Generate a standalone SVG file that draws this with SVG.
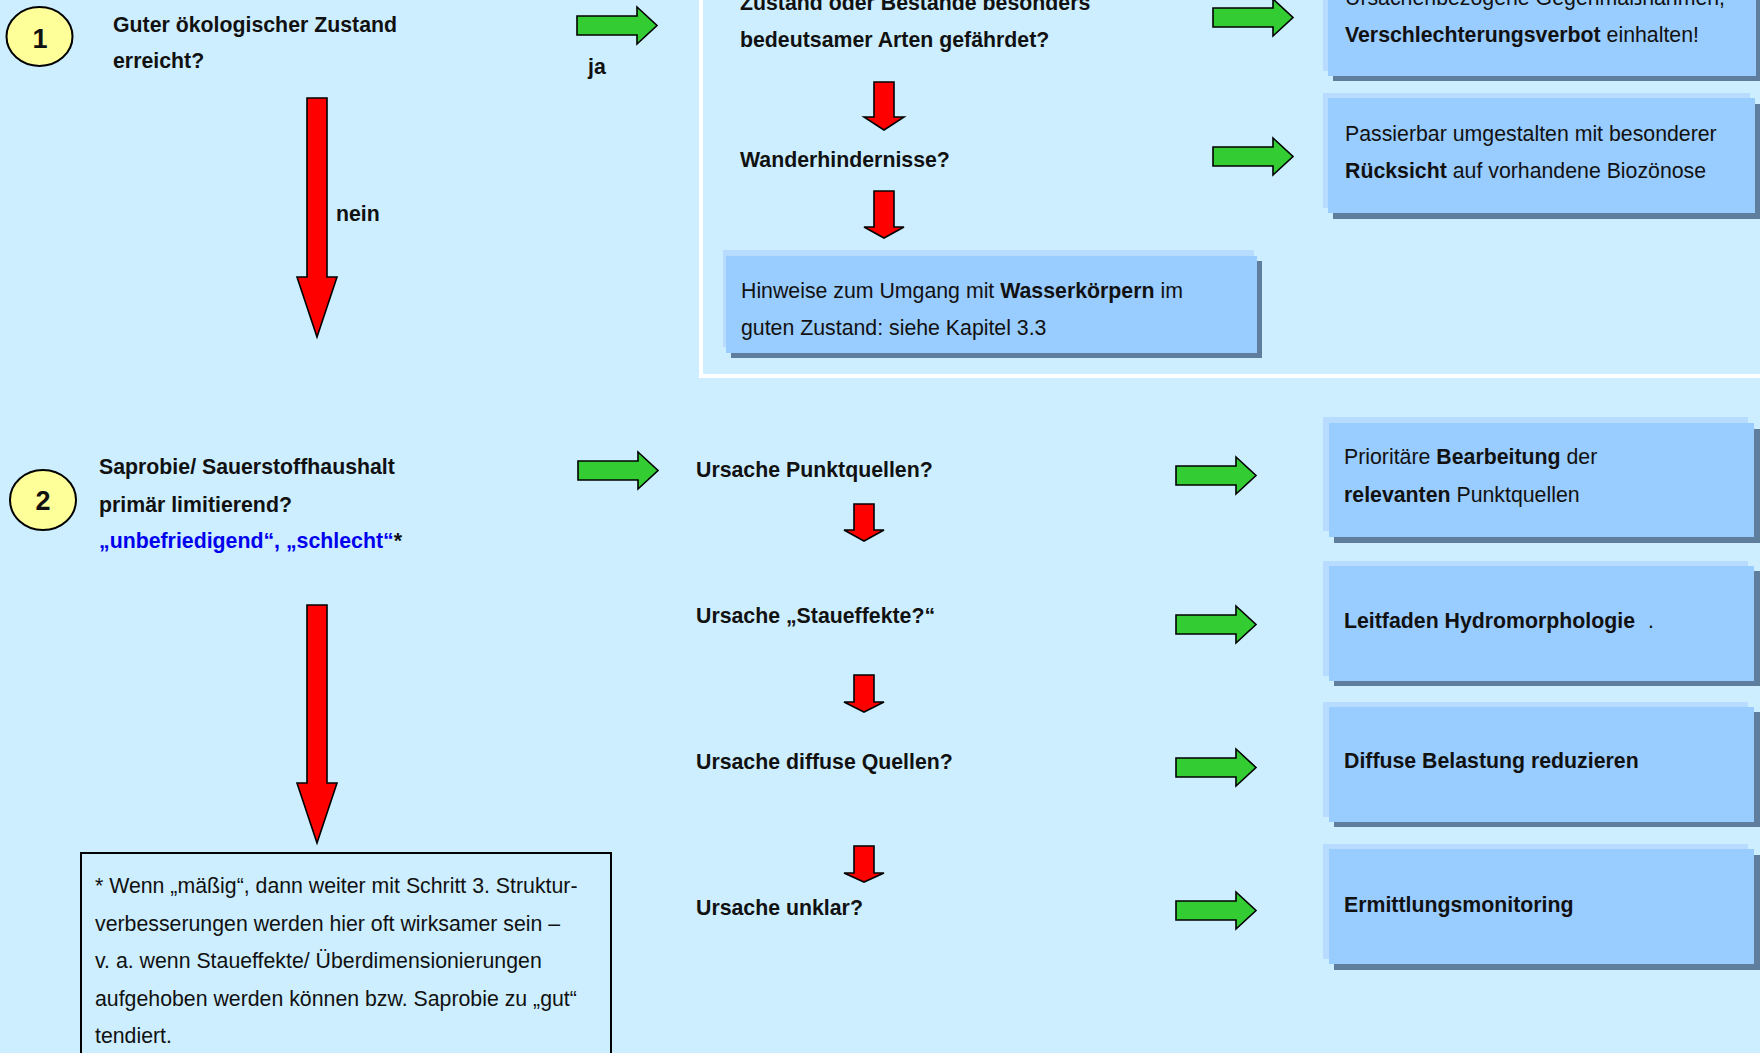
<svg xmlns="http://www.w3.org/2000/svg" xmlns:xlink="http://www.w3.org/1999/xlink" width="1760" height="1053" viewBox="0 0 1760 1053">
<style>
text{font-family:"Liberation Sans",Arial,sans-serif;font-size:21.3px;fill:#111}
.b{font-weight:bold}
.blue{fill:#0000ee}
.num{font-size:27px;font-weight:bold;text-anchor:middle}
.light{fill:#b8dcff}
.shadow{fill:#5f7d9c}
.main{fill:#99ccff}
.green{fill:#33cc33;stroke:#000;stroke-width:1.6;stroke-linejoin:miter}
.red{fill:#ff0000;stroke:#000;stroke-width:1.6;stroke-linejoin:miter}
.circ{fill:#ffff99;stroke:#000;stroke-width:2}
</style>
<defs>
<polygon id="ga" points="0,9 60,9 60,0 80,18.5 60,37 60,28 0,28"/>
</defs>
<rect x="0" y="0" width="1760" height="1053" fill="#cceeff"/>
<path d="M701,-5 V376 H1765" fill="none" stroke="#ffffff" stroke-width="4"/>

<g id="connectors">
  <use xlink:href="#ga" class="green" x="577" y="7"/>
  <use xlink:href="#ga" class="green" x="1213" y="-1"/>
  <use xlink:href="#ga" class="green" x="1213" y="138"/>
  <use xlink:href="#ga" class="green" x="578" y="452"/>
  <use xlink:href="#ga" class="green" x="1176" y="457"/>
  <use xlink:href="#ga" class="green" x="1176" y="606"/>
  <use xlink:href="#ga" class="green" x="1176" y="749"/>
  <use xlink:href="#ga" class="green" x="1176" y="892"/>
  <polygon class="red" points="307,98 327,98 327,277 337,277 317,337 297,277 307,277"/>
  <polygon class="red" points="307,605 327,605 327,783 337,783 317,843 297,783 307,783"/>
  <polygon class="red" points="874,82 894,82 894,117 904,117 884,130 864,117 874,117"/>
  <polygon class="red" points="874,191 894,191 894,227 904,227 884,238 864,227 874,227"/>
  <polygon class="red" points="854,504 874,504 874,530 884,530 864,541 844,530 854,530"/>
  <polygon class="red" points="854,675 874,675 874,702 884,702 864,712 844,702 854,702"/>
  <polygon class="red" points="854,846 874,846 874,873 884,873 864,882 844,873 854,873"/>
  <text x="588" y="74" class="b">ja</text>
  <text x="336" y="221" class="b">nein</text>
</g>

<g id="step1">
  <ellipse class="circ" cx="39.5" cy="36.5" rx="33" ry="29.5"/>
  <text x="40" y="48" class="num">1</text>
  <text x="113" y="32" class="b">Guter ökologischer Zustand</text>
  <text x="113" y="68" class="b">erreicht?</text>
</g>

<g id="q-arten">
  <text x="740" y="10" class="b">Zustand oder Bestände besonders</text>
  <text x="740" y="47" class="b">bedeutsamer Arten gefährdet?</text>
</g>

<g id="q-wander">
  <text x="740" y="167" class="b">Wanderhindernisse?</text>
</g>

<g id="box-massnahmen">
  <rect class="light" x="1323" y="-45" width="428" height="116"/>
  <rect class="shadow" x="1333" y="-34" width="428" height="115"/>
  <rect class="main" x="1328" y="-39" width="428" height="115"/>
  <text x="1345" y="5">Ursachenbezogene Gegenmaßnahmen,</text>
  <text x="1345" y="42"><tspan class="b">Verschlechterungsverbot</tspan> einhalten!</text>
</g>

<g id="box-passierbar">
  <rect class="light" x="1323" y="93" width="427" height="115"/>
  <rect class="shadow" x="1333" y="104" width="427" height="115"/>
  <rect class="main" x="1328" y="98" width="427" height="115"/>
  <text x="1345" y="141">Passierbar umgestalten mit besonderer</text>
  <text x="1345" y="178"><tspan class="b">Rücksicht</tspan> auf vorhandene Biozönose</text>
</g>

<g id="box-hinweise">
  <rect class="light" x="723" y="250" width="531" height="97"/>
  <rect class="shadow" x="731" y="261" width="531" height="97"/>
  <rect class="main" x="726" y="256" width="531" height="97"/>
  <text x="741" y="298">Hinweise zum Umgang mit <tspan class="b">Wasserkörpern</tspan> im</text>
  <text x="741" y="335">guten Zustand: siehe Kapitel 3.3</text>
</g>

<g id="step2">
  <ellipse class="circ" cx="43" cy="500" rx="33" ry="30"/>
  <text x="43" y="510" class="num">2</text>
  <text x="99" y="474" class="b">Saprobie/ Sauerstoffhaushalt</text>
  <text x="99" y="512" class="b">primär limitierend?</text>
  <text x="99" y="548" class="b"><tspan class="blue">„unbefriedigend“, „schlecht“</tspan>*</text>
</g>

<g id="q-punkt"><text x="696" y="477" class="b">Ursache Punktquellen?</text></g>
<g id="q-stau"><text x="696" y="623" class="b">Ursache „Staueffekte?“</text></g>
<g id="q-diffus"><text x="696" y="769" class="b">Ursache diffuse Quellen?</text></g>
<g id="q-unklar"><text x="696" y="915" class="b">Ursache unklar?</text></g>

<g id="box-punkt">
  <rect class="light" x="1323" y="417" width="425" height="114"/>
  <rect class="shadow" x="1334" y="429" width="426" height="114"/>
  <rect class="main" x="1329" y="423" width="425" height="114"/>
  <text x="1344" y="464">Prioritäre <tspan class="b">Bearbeitung</tspan> der</text>
  <text x="1344" y="502"><tspan class="b">relevanten</tspan> Punktquellen</text>
</g>

<g id="box-hydro">
  <rect class="light" x="1323" y="561" width="425" height="115"/>
  <rect class="shadow" x="1334" y="571" width="426" height="115"/>
  <rect class="main" x="1329" y="566" width="425" height="115"/>
  <text x="1344" y="628" class="b">Leitfaden Hydromorphologie</text>
  <text x="1648" y="628">.</text>
</g>

<g id="box-diffus">
  <rect class="light" x="1323" y="702" width="425" height="115"/>
  <rect class="shadow" x="1334" y="712" width="426" height="115"/>
  <rect class="main" x="1329" y="707" width="425" height="115"/>
  <text x="1344" y="768" class="b">Diffuse Belastung reduzieren</text>
</g>

<g id="box-monitoring">
  <rect class="light" x="1323" y="844" width="425" height="115"/>
  <rect class="shadow" x="1334" y="855" width="426" height="115"/>
  <rect class="main" x="1329" y="849" width="425" height="115"/>
  <text x="1344" y="912" class="b">Ermittlungsmonitoring</text>
</g>

<g id="footnote">
  <rect x="81" y="853" width="530" height="260" fill="none" stroke="#000" stroke-width="2"/>
  <text x="95" y="893">* Wenn „mäßig“, dann weiter mit Schritt 3. Struktur-</text>
  <text x="95" y="931">verbesserungen werden hier oft wirksamer sein –</text>
  <text x="95" y="968">v. a. wenn Staueffekte/ Überdimensionierungen</text>
  <text x="95" y="1006">aufgehoben werden können bzw. Saprobie zu „gut“</text>
  <text x="95" y="1043">tendiert.</text>
</g>
</svg>
